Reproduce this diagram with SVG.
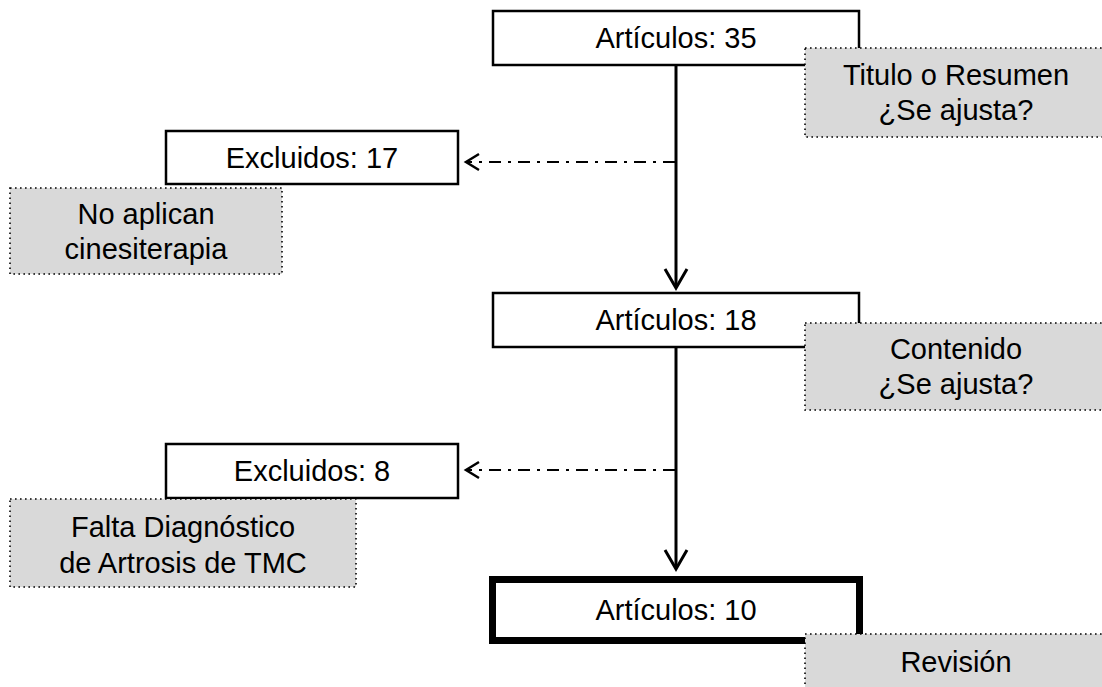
<svg xmlns="http://www.w3.org/2000/svg" width="1102" height="687" viewBox="0 0 1102 687">
  <defs>
    <style>
      text { font-family: "Liberation Sans", Arial, sans-serif; font-size: 29px; fill: #000; text-anchor: middle; }
      .box { fill: #fff; stroke: #000; stroke-width: 2.5; }
      .final { fill: #fff; stroke: #000; stroke-width: 7; }
      .note { fill: #d9d9d9; stroke: #000; stroke-width: 1.6; stroke-dasharray: 1.6 3.4; }
      .flow { fill: none; stroke: #000; stroke-width: 3; }
      .excl { fill: none; stroke: #000; stroke-width: 2; stroke-dasharray: 12 7 3 7; }
      .head { fill: none; stroke: #000; stroke-width: 2.5; stroke-linejoin: miter; }
    </style>
  </defs>

  <rect width="1102" height="687" fill="#fff"/>

  <!-- connectors -->
  <g id="connectors">
    <line class="flow" x1="676" y1="65" x2="676" y2="287"/>
    <polyline class="head" points="665,269 676,288 687,269" style="stroke-width:3"/>
    <line class="flow" x1="676" y1="347" x2="676" y2="568"/>
    <polyline class="head" points="665,550 676,569 687,550" style="stroke-width:3"/>

    <line class="excl" x1="675" y1="162" x2="467" y2="162"/>
    <polyline class="head" points="479,154 466,162 479,170"/>
    <line class="excl" x1="675" y1="470" x2="467" y2="470"/>
    <polyline class="head" points="479,462 466,470 479,478"/>
  </g>

  <!-- main flow boxes -->
  <g id="articulos35">
    <rect class="box" x="493" y="11" width="366" height="54"/>
    <text x="676" y="48">Artículos: 35</text>
  </g>
  <g id="excluidos17">
    <rect class="box" x="166" y="131" width="292" height="53"/>
    <text x="312" y="168">Excluidos: 17</text>
  </g>
  <g id="articulos18">
    <rect class="box" x="493" y="293" width="366" height="54"/>
    <text x="676" y="330">Artículos: 18</text>
  </g>
  <g id="excluidos8">
    <rect class="box" x="166" y="444" width="292" height="54"/>
    <text x="312" y="481">Excluidos: 8</text>
  </g>
  <g id="articulos10">
    <rect class="final" x="492.5" y="579.5" width="367" height="61"/>
    <text x="676" y="620">Artículos: 10</text>
  </g>

  <!-- annotation notes -->
  <g id="note-titulo">
    <rect class="note" x="805" y="48" width="302" height="89"/>
    <text x="956" y="85">Titulo o Resumen</text>
    <text x="956" y="120">¿Se ajusta?</text>
  </g>
  <g id="note-cinesiterapia">
    <rect class="note" x="10" y="188" width="272" height="86"/>
    <text x="146" y="224">No aplican</text>
    <text x="146" y="259">cinesiterapia</text>
  </g>
  <g id="note-contenido">
    <rect class="note" x="805" y="323" width="302" height="87"/>
    <text x="956" y="359">Contenido</text>
    <text x="956" y="394">¿Se ajusta?</text>
  </g>
  <g id="note-diagnostico">
    <rect class="note" x="10" y="499" width="346" height="88"/>
    <text x="183" y="537">Falta Diagnóstico</text>
    <text x="183" y="573">de Artrosis de TMC</text>
  </g>
  <g id="note-revision">
    <rect class="note" x="805" y="634" width="302" height="88"/>
    <text x="956" y="672">Revisión</text>
  </g>
</svg>
